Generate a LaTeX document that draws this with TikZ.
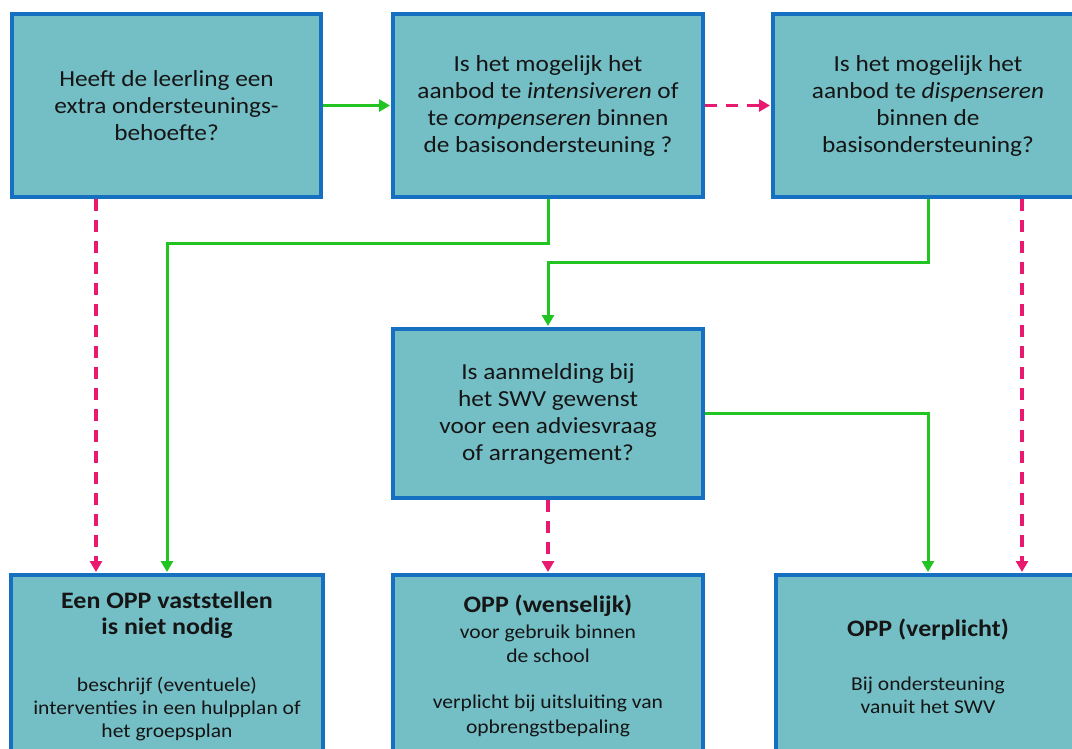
\documentclass[tikz,border=0pt]{standalone}
\usepackage{fontspec}
\setmainfont{Carlito}[FakeStretch=1.1]
\usetikzlibrary{arrows.meta}
\definecolor{boxfill}{HTML}{74BEC6}
\definecolor{boxline}{HTML}{1670C2}
\definecolor{ygreen}{HTML}{22C422}
\definecolor{npink}{HTML}{E8196F}
\definecolor{ink}{HTML}{151515}
\newcommand{\headfont}{\fontsize{23.6}{27}\selectfont\bfseries}
\tikzset{
  qbox/.style={draw=boxline, fill=boxfill, line width=4pt, inner sep=0pt,
    text=ink, align=center, font=\fontsize{23}{27}\selectfont},
  rbox/.style={qbox, font=\fontsize{19.6}{23}\selectfont},
  yes/.style={draw=ygreen, line width=3pt, -{Triangle[length=11pt,width=12pt]}, shorten >=1pt},
  no/.style={draw=npink, line width=3.5pt, dash pattern=on 12pt off 9pt, -{Triangle[length=11pt,width=12pt]}, shorten >=1pt},
}
\begin{document}
\begin{tikzpicture}[x=1pt,y=-1pt]
\clip (0,0) rectangle (1072,748);
\fill[white] (0,0) rectangle (1072,748);
% top row
\node[qbox, minimum width=309pt, minimum height=183pt] (b1) at (166.5,105.5)
  {Heeft de leerling een\\extra ondersteunings-\\behoefte?};
\node[qbox, minimum width=310pt, minimum height=183pt] (b2) at (548,105.5)
  {Is het mogelijk het\\aanbod te \textit{intensiveren} of\\te \textit{compenseren} binnen\\de basisondersteuning ?};
\node[qbox, minimum width=310pt, minimum height=183pt] (b3) at (928,105.5)
  {Is het mogelijk het\\aanbod te \textit{dispenseren}\\binnen de\\basisondersteuning?};
% middle
\node[qbox, minimum width=310pt, minimum height=169pt] (bm) at (548,413.5)
  {Is aanmelding bij\\het SWV gewenst\\voor een adviesvraag\\of arrangement?};
% bottom row
\node[rbox, minimum width=312pt, minimum height=182pt] (b4) at (167,666)
  {{\headfont Een OPP vaststellen}\\[3pt]
   {\headfont is niet nodig}\\[34pt]
   beschrijf (eventuele)\\interventies in een hulpplan of\\het groepsplan};
\node[rbox, minimum width=310pt, minimum height=182pt] (b5) at (548,666)
  {{\headfont OPP (wenselijk)}\\[3pt]
   voor gebruik binnen\\[1pt]de school\\[23pt]
   verplicht bij uitsluiting van\\[2pt]opbrengstbepaling};
\node[rbox, minimum width=304pt, minimum height=182pt] (b6) at (928,666)
  {{\headfont OPP (verplicht)}\\[31pt]
   Bij ondersteuning\\vanuit het SWV};
% helper coordinates
\coordinate (xl) at (96,0);
\coordinate (xr) at (1022,0);
\coordinate (k1) at (548,243);
\coordinate (k2) at (928,262);
% connectors
\draw[yes] (b1.east) -- (b2.west);
\draw[no] (b2.east) -- (b3.west);
\draw[no] (b1.south -| xl) -- (b4.north -| xl);
\draw[yes] (b2.south) -- (k1) -| (b4.north);
\draw[yes] (b3.south) -- (k2) -| (bm.north);
\draw[no] (b3.south -| xr) -- (b6.north -| xr);
\draw[no] (bm.south) -- (b5.north);
\draw[yes] (bm.east) -| (b6.north);
\end{tikzpicture}
\end{document}
